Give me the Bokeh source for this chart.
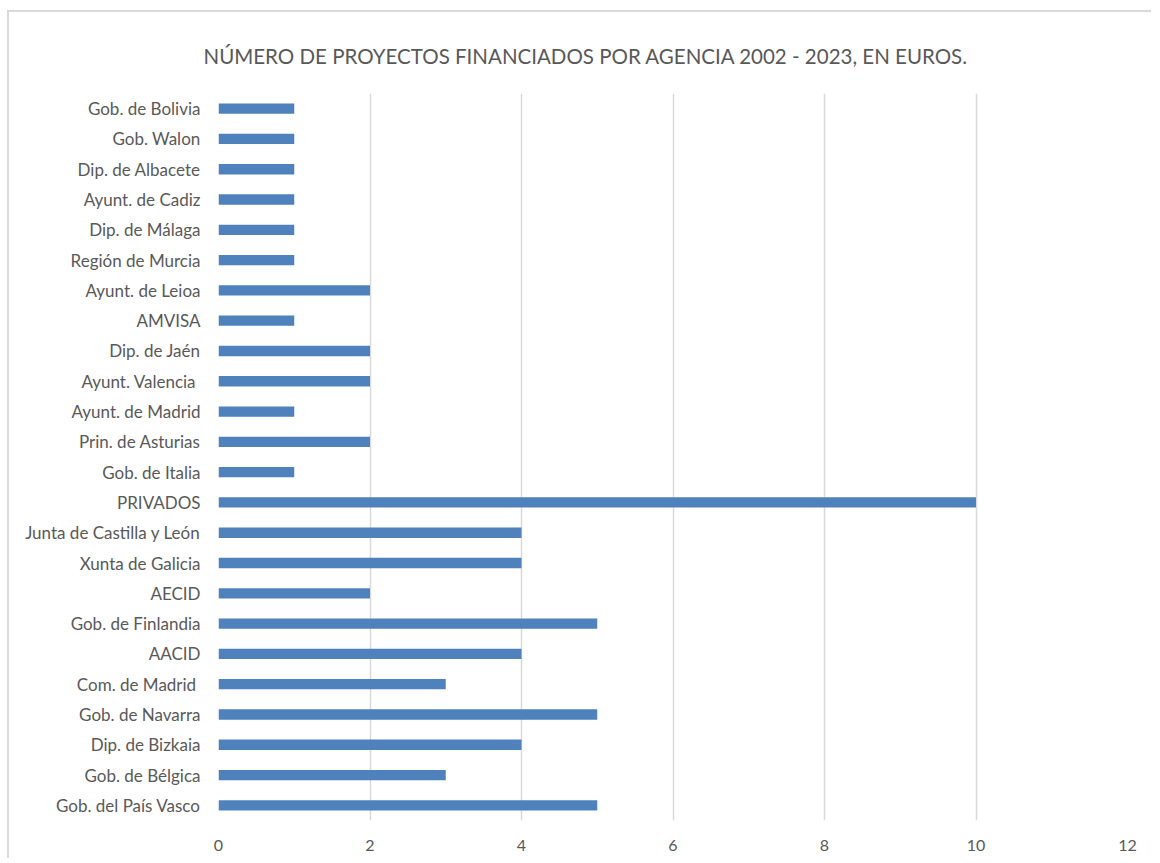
from bokeh.plotting import figure
from bokeh.models import Title, ColumnDataSource, FactorRange, Range1d, FixedTicker
from bokeh.embed import file_html
from bokeh.resources import INLINE

agencies = [
    "Gob. de Bolivia", "Gob. Walon", "Dip. de Albacete", "Ayunt. de Cadiz",
    "Dip. de Málaga", "Región de Murcia", "Ayunt. de Leioa", "AMVISA",
    "Dip. de Jaén", "Ayunt.  Valencia", "Ayunt. de Madrid", "Prin. de Asturias",
    "Gob. de Italia", "PRIVADOS", "Junta de Castilla y León", "Xunta de Galicia",
    "AECID", "Gob. de Finlandia", "AACID", "Com. de Madrid ", "Gob. de Navarra",
    "Dip. de Bizkaia", "Gob. de Bélgica", "Gob. del País Vasco",
]
projects = [1, 1, 1, 1, 1, 1, 2, 1, 2, 2, 1, 2, 1, 10, 4, 4, 2, 5, 4, 3, 5, 4, 3, 5]
x_ticks = [0, 2, 4, 6, 8, 10, 12]

FONT = "Lato"
GRAY = "#595959"

factors = list(reversed(agencies))
src = ColumnDataSource(dict(agency=agencies, value=projects))

p = figure(
    width=1144, height=848,
    y_range=FactorRange(factors=factors, range_padding=0),
    x_range=Range1d(0, 12),
    output_backend="svg", toolbar_location=None,
    min_border_left=209, min_border_right=26, min_border_top=81, min_border_bottom=40,
)
p.styles = {"margin-left": "7px", "margin-top": "10px",
            "border-left": "2px solid #d9d9d9", "border-top": "2px solid #d9d9d9"}

p.hbar(y="agency", right="value", left=0, height=0.34, source=src,
       fill_color="#4F81BD", line_color=None)

p.title = Title(text="NÚMERO DE PROYECTOS FINANCIADOS POR AGENCIA 2002 - 2023, EN EUROS.",
                align="left", offset=-15, text_font=FONT, text_font_size="20.5px",
                text_font_style="normal", text_color=GRAY, standoff=51)

p.outline_line_color = None
p.ygrid.grid_line_color = None
p.xgrid.grid_line_color = "#d9d9d9"
p.xgrid.grid_line_width = 1.5
p.xaxis.ticker = FixedTicker(ticks=x_ticks)
for ax in (p.xaxis[0], p.yaxis[0]):
    ax.axis_line_color = None
    ax.major_tick_line_color = None
    ax.minor_tick_line_color = None
    ax.major_label_text_font = FONT
    ax.major_label_text_color = GRAY
p.yaxis.major_label_text_font_size = "17px"
p.xaxis.major_label_text_font_size = "16px"
p.yaxis.major_label_standoff = 12
p.xaxis.major_label_standoff = 13

open("out.html", "w").write(file_html(p, INLINE))
